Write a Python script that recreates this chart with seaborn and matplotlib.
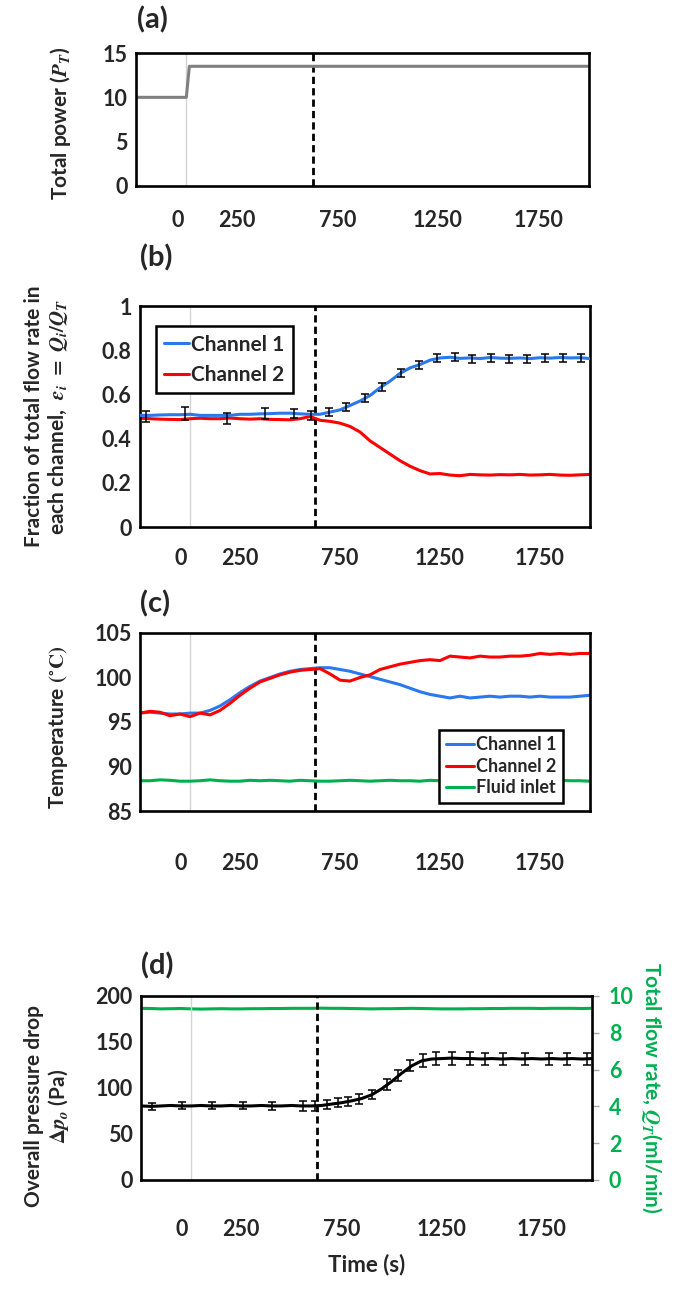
import numpy as np
import matplotlib
matplotlib.use("Agg")
import matplotlib.pyplot as plt
import seaborn as sns

# ---- data ----
time = list(range(-250, 2001, 50))

power_t = [-250, 0, 15, 2000]
power = [10, 10, 13.5, 13.5]

frac_ch1 = [0.505, 0.505, 0.507, 0.508, 0.508, 0.510, 0.505, 0.505, 0.505, 0.505,
            0.510, 0.510, 0.512, 0.513, 0.515, 0.515, 0.512, 0.510, 0.510, 0.520,
            0.530, 0.550, 0.570, 0.595, 0.630, 0.660, 0.695, 0.720, 0.735, 0.755,
            0.765, 0.768, 0.763, 0.765, 0.762, 0.767, 0.764, 0.763, 0.765, 0.762,
            0.766, 0.764, 0.767, 0.765, 0.766, 0.762]
frac_ch2 = [0.492, 0.490, 0.488, 0.487, 0.486, 0.490, 0.492, 0.490, 0.490, 0.493,
            0.490, 0.488, 0.490, 0.487, 0.486, 0.485, 0.490, 0.500, 0.483, 0.478,
            0.470, 0.455, 0.430, 0.390, 0.360, 0.330, 0.300, 0.275, 0.255, 0.240,
            0.242, 0.235, 0.232, 0.238, 0.236, 0.235, 0.237, 0.236, 0.238, 0.235,
            0.236, 0.238, 0.235, 0.234, 0.236, 0.238]
frac_err_t = [-222, -25, 183, 376, 521, 603, 697, 779, 875, 959, 1053, 1143,
              1233, 1325, 1411, 1503, 1593, 1683, 1775, 1865, 1957]
frac_err_y = [0.500, 0.515, 0.490, 0.515, 0.515, 0.505, 0.520, 0.545, 0.585,
              0.635, 0.695, 0.735, 0.765, 0.770, 0.760, 0.765, 0.760, 0.760,
              0.765, 0.765, 0.765]
frac_err = [0.025, 0.030, 0.025, 0.025, 0.020, 0.020, 0.018, 0.018, 0.018,
            0.018, 0.018, 0.018, 0.018, 0.018, 0.018, 0.018, 0.018, 0.018,
            0.018, 0.018, 0.018]

temp_ch1 = [96.0, 96.1, 96.0, 95.9, 95.9, 96.0, 96.0, 96.3, 96.8, 97.5,
            98.3, 99.0, 99.6, 100.0, 100.4, 100.7, 100.9, 101.0, 101.1, 101.1,
            100.9, 100.7, 100.4, 100.1, 99.8, 99.5, 99.2, 98.8, 98.4, 98.1,
            97.9, 97.7, 97.9, 97.7, 97.8, 97.9, 97.8, 97.9, 97.9, 97.8,
            97.9, 97.8, 97.8, 97.8, 97.9, 98.0]
temp_ch2 = [96.0, 96.2, 96.1, 95.7, 95.9, 95.6, 96.0, 95.8, 96.3, 97.1,
            98.0, 98.8, 99.5, 99.9, 100.3, 100.6, 100.8, 100.9, 101.0, 100.4,
            99.7, 99.6, 100.0, 100.3, 100.9, 101.2, 101.5, 101.7, 101.9, 102.0,
            101.9, 102.4, 102.3, 102.2, 102.4, 102.3, 102.3, 102.4, 102.4, 102.5,
            102.7, 102.6, 102.7, 102.6, 102.7, 102.7]
temp_inlet = [88.40, 88.40, 88.50, 88.45, 88.35, 88.35, 88.40, 88.50, 88.40, 88.35,
              88.35, 88.45, 88.40, 88.45, 88.40, 88.35, 88.45, 88.40, 88.35, 88.35,
              88.40, 88.45, 88.40, 88.35, 88.40, 88.45, 88.40, 88.40, 88.35, 88.45,
              88.40, 88.40, 88.45, 88.40, 88.45, 88.35, 88.35, 88.40, 88.40, 88.45,
              88.40, 88.40, 88.45, 88.40, 88.40, 88.35]

dp = [80.5, 80.0, 80.5, 81.0, 80.5, 80.5, 81.0, 80.5, 80.5, 81.0,
      80.5, 80.5, 81.0, 80.5, 80.5, 81.0, 80.5, 80.5, 81.0, 82.5,
      84.0, 86.0, 88.5, 92.5, 99.0, 107.0, 116.0, 124.0, 129.5, 131.5,
      132.0, 132.5, 132.0, 132.0, 131.5, 132.0, 131.5, 132.0, 131.5, 132.0,
      131.5, 132.0, 131.5, 132.0, 131.5, 132.0]
dp_err_t = [-196, -45, 106, 257, 404, 559, 619, 678, 732, 785, 839, 900, 975,
            1034, 1094, 1159, 1223, 1303, 1389, 1465, 1557, 1665, 1783, 1875, 1976]
dp_err_y = [80.0, 81.0, 81.0, 81.0, 80.5, 80.5, 80.5, 82.0, 84.0, 85.5, 88.0,
            93.0, 104.0, 114.0, 124.0, 130.0, 132.0, 132.0, 132.0, 131.5, 131.5,
            131.5, 131.5, 131.5, 131.5]
dp_err = [4, 4, 4, 4, 4, 5, 5, 5, 5, 5, 5, 5, 6, 6, 6, 7, 7, 7, 7, 7, 7, 7, 7, 7, 7]

flow = [9.33, 9.32, 9.30, 9.31, 9.32, 9.30, 9.29, 9.30, 9.31, 9.30,
        9.30, 9.31, 9.31, 9.32, 9.32, 9.33, 9.33, 9.33, 9.34, 9.33,
        9.33, 9.32, 9.31, 9.30, 9.31, 9.31, 9.32, 9.33, 9.32, 9.31,
        9.30, 9.30, 9.30, 9.31, 9.31, 9.32, 9.32, 9.33, 9.33, 9.33,
        9.32, 9.33, 9.33, 9.33, 9.32, 9.33]

xtick_pos = [-45, 250, 750, 1250, 1750]
xtick_lab = ["0", "250", "750", "1250", "1750"]
t_switch = 627

BLUE, RED, GREEN, GRAY = "#2a78ee", "#ff0000", "#00b050", "#808080"

sns.set_style("white")
plt.rcParams['font.family'] = ['Lato', 'DejaVu Sans']
plt.rcParams['font.weight'] = 'bold'
plt.rcParams['axes.labelweight'] = 'bold'
plt.rcParams['mathtext.fontset'] = 'stix'

fig = plt.figure(figsize=(6.78, 13.09), dpi=100)
W, H = 678, 1309


def make_ax(x0, x1, y0, y1):
    return fig.add_axes([x0 / W, 1 - y1 / H, (x1 - x0) / W, (y1 - y0) / H])


def bold_ticks(ax):
    for t in ax.get_xticklabels() + ax.get_yticklabels():
        t.set_fontweight('bold')


def style(ax, xpad):
    ax.set_xlim(-250, 2000)
    ax.set_xticks(xtick_pos)
    ax.set_xticklabels(xtick_lab)
    ax.tick_params(axis='both', length=0, labelsize=15.5)
    ax.tick_params(axis='x', pad=xpad)
    ax.tick_params(axis='y', pad=6)
    for s in ax.spines.values():
        s.set_color('black')
        s.set_linewidth(1.9)
    ax.axvline(0, color='#d4d4d4', lw=1, zorder=0.5)
    ax.axvline(t_switch, color='black', lw=2, ls=(0, (2.6, 1.5)), zorder=1)
    ax.set_xlabel("")
    bold_ticks(ax)


def box_legend(ax, **kw):
    leg = ax.legend(loc='upper left', fancybox=False, framealpha=1,
                    prop={'weight': 'bold', 'size': kw.pop('size')}, **kw)
    leg.get_frame().set_edgecolor('black')
    leg.get_frame().set_linewidth(1.8)
    return leg


# (a) power
ax = make_ax(136, 589, 53, 186)
sns.lineplot(x=power_t, y=power, ax=ax, color=GRAY, lw=2.2)
ax.set_ylim(0, 15)
ax.set_yticks([0, 5, 10, 15])
style(ax, 17)
ax.set_ylabel(r"Total power ($\boldsymbol{P_T}$)", fontsize=15)
ax.yaxis.set_label_coords(-0.14, 0.47)

# (b) flow fraction
ax = make_ax(140, 590, 306, 527)
ax.errorbar(frac_err_t, frac_err_y, yerr=frac_err, fmt='none', ecolor='black',
            elinewidth=1.1, capsize=2.8, capthick=1.1, zorder=4)
sns.lineplot(x=time, y=frac_ch1, ax=ax, color=BLUE, lw=2.2, label="Channel 1", zorder=3)
sns.lineplot(x=time, y=frac_ch2, ax=ax, color=RED, lw=2.2, label="Channel 2", zorder=2)
ax.set_ylim(0, 1)
ax.set_yticks([0, 0.2, 0.4, 0.6, 0.8, 1])
ax.set_yticklabels(["0", "0.2", "0.4", "0.6", "0.8", "1"])
style(ax, 15)
ax.set_ylabel("Fraction of total flow rate in\n" + r"each channel,  $\varepsilon_i\ =\ Q_i/Q_T$",
              fontsize=15, linespacing=1.1)
ax.yaxis.set_label_coords(-0.155, 0.5)
box_legend(ax, size=15, bbox_to_anchor=(0.012, 0.955), handlelength=1.2,
           handletextpad=0.1, borderpad=0.4, labelspacing=0.5)

# (c) temperature
ax = make_ax(140, 590, 633, 811)
sns.lineplot(x=time, y=temp_ch1, ax=ax, color=BLUE, lw=2.2, label="Channel 1")
sns.lineplot(x=time, y=temp_ch2, ax=ax, color=RED, lw=2.2, label="Channel 2")
sns.lineplot(x=time, y=temp_inlet, ax=ax, color=GREEN, lw=2.2, label="Fluid inlet")
ax.set_ylim(85, 105)
ax.set_yticks([85, 90, 95, 100, 105])
style(ax, 30)
ax.set_ylabel(r"Temperature $(^{\circ}\mathrm{C})$", fontsize=15)
ax.yaxis.set_label_coords(-0.155, 0.47)
box_legend(ax, size=13, bbox_to_anchor=(0.645, 0.505), handlelength=1.6,
           handletextpad=0.1, borderpad=0.35, labelspacing=0.25)

# (d) pressure drop + total flow
ax = make_ax(141, 592, 996, 1180)
ax2 = ax.twinx()
sns.lineplot(x=time, y=flow, ax=ax2, color=GREEN, lw=2.2)
ax2.set_ylim(0, 10)
ax2.set_yticks([0, 2, 4, 6, 8, 10])
ax2.tick_params(axis='y', length=5, width=1, color='#a6a6a6', labelcolor=GREEN,
                labelsize=15.5, pad=7, direction='out')
for t in ax2.get_yticklabels():
    t.set_fontweight('bold')
ax2.set_ylabel(r"Total flow rate, $\boldsymbol{Q_T}$(ml/min)", color=GREEN, fontsize=15,
               rotation=270, labelpad=22)
for s in ax2.spines.values():
    s.set_visible(False)
ax.errorbar(dp_err_t, dp_err_y, yerr=dp_err, fmt='none', ecolor='black',
            elinewidth=1.1, capsize=2.8, capthick=1.1, zorder=4)
sns.lineplot(x=time, y=dp, ax=ax, color='black', lw=2.2, zorder=3)
ax.set_ylim(0, 200)
ax.set_yticks([0, 50, 100, 150, 200])
style(ax, 28)
ax.set_ylabel("Overall pressure drop\n" + r"$\boldsymbol{\Delta p_o}$ (Pa)", fontsize=15,
              linespacing=1.1)
ax.yaxis.set_label_coords(-0.155, 0.40)
ax.set_xlabel("Time (s)", fontsize=16, labelpad=10)
ax.set_zorder(ax2.get_zorder() + 1)
ax.patch.set_visible(False)

for lab, yy, xx in [("(a)", 20, 137), ("(b)", 258, 140), ("(c)", 604, 140), ("(d)", 966, 141)]:
    fig.text(xx / W, 1 - yy / H, lab, fontsize=21, fontweight='bold', va='center', ha='left')

fig.savefig("out.png", dpi=100)
